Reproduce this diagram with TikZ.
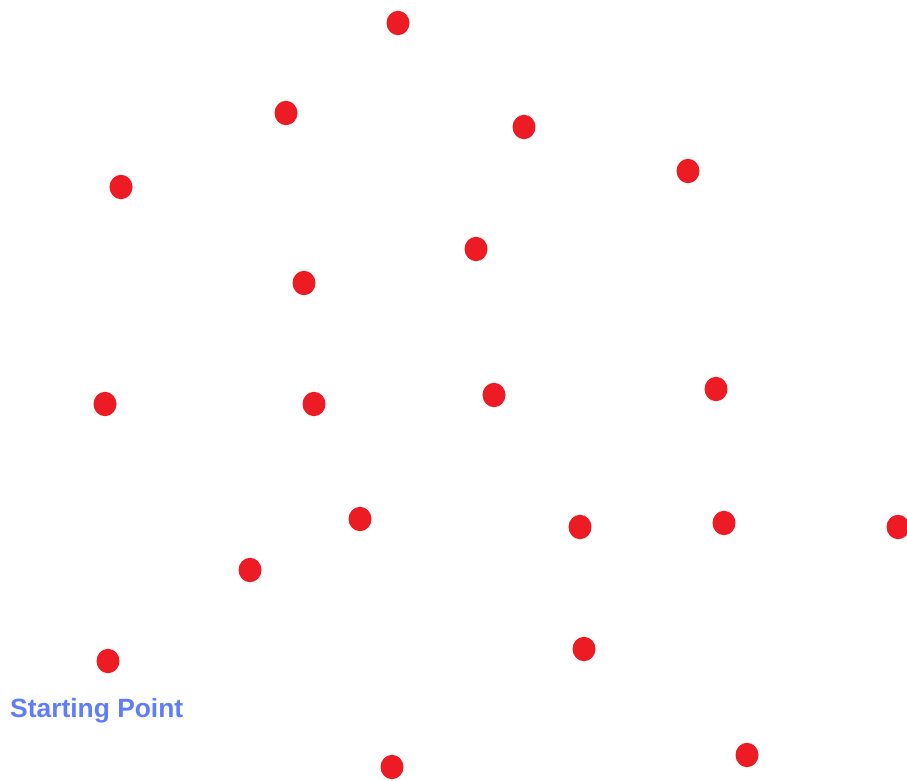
\documentclass[tikz,border=0pt]{standalone}
\usepackage{fontspec}
\setmainfont{Liberation Sans}
\definecolor{dotred}{RGB}{237,28,36}
\definecolor{labelblue}{RGB}{95,125,250}
\begin{document}
\begin{tikzpicture}[x=1pt,y=-1pt,
  pt/.style={fill=dotred,draw=none,shape=circle,minimum size=23pt,inner sep=0pt,yscale=1.06},
  lbl/.style={text=labelblue,font=\bfseries\fontsize{26.4}{30}\selectfont,anchor=base west,inner sep=0pt}]
\useasboundingbox (0,0) rectangle (907,781);
\fill[white] (0,0) rectangle (907,781);
\foreach \n/\x/\y in {1/398/23,2/286/113,3/524/127,4/688/171,5/121/187,6/476/249,7/304/283,8/105/404,9/314/404,10/494/395,11/716/389,12/360/519,13/580/527,14/724/523,15/898/527,16/250/570,17/584/649,18/108/661,19/392/767,20/747/755}
  \node[pt] (p\n) at (\x,\y) {};
\node[lbl] (start) at (10,717) {Starting Point};
\end{tikzpicture}
\end{document}
